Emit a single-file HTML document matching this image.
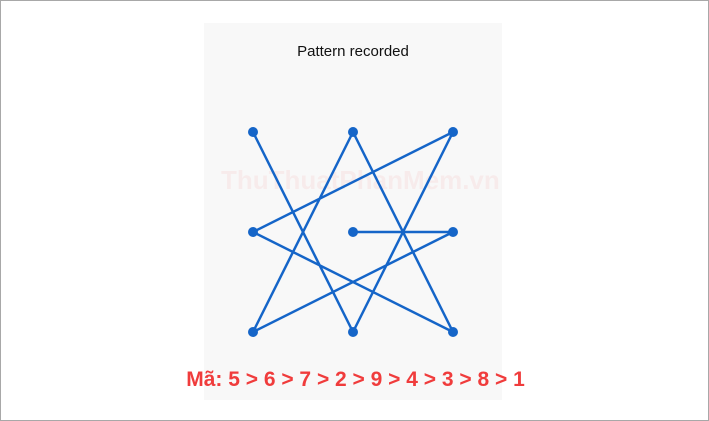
<!DOCTYPE html>
<html><head><style>
html,body{margin:0;padding:0;background:#fff;}
.w{position:relative;width:709px;height:421px;box-sizing:border-box;border:1px solid #a8a8a8;overflow:hidden;}
.p{position:absolute;left:203px;top:22px;width:298px;height:377px;background:#f8f8f8;}
.t{position:absolute;left:203px;width:298px;top:42px;text-align:center;font:15px "Liberation Sans",sans-serif;color:#111;}
.m{position:absolute;left:0;width:709px;top:367px;text-align:center;font:bold 21px "Liberation Sans",sans-serif;color:#f03c3c;}
.wm{position:absolute;left:220px;top:164px;font:bold 26px "Liberation Sans",sans-serif;color:rgba(240,90,90,0.08);}
</style></head><body><div class="w">
<div class="p"></div>
<div class="t">Pattern recorded</div>
<div class="wm">ThuThuatPhanMem.vn</div>
<svg width="709" height="421" style="position:absolute;left:0;top:0">
<polyline points="352,231 452,231 252,331 352,131 452,331 252,231 452,131 352,331 252,131" fill="none" stroke="#1565c8" stroke-width="2.5" stroke-linejoin="round"/>
<g fill="#1565c8">
<circle cx="252" cy="131" r="5"/><circle cx="352" cy="131" r="5"/><circle cx="452" cy="131" r="5"/>
<circle cx="252" cy="231" r="5"/><circle cx="352" cy="231" r="5"/><circle cx="452" cy="231" r="5"/>
<circle cx="252" cy="331" r="5"/><circle cx="352" cy="331" r="5"/><circle cx="452" cy="331" r="5"/>
</g></svg>
<div class="m">Mã: 5 &gt; 6 &gt; 7 &gt; 2 &gt; 9 &gt; 4 &gt; 3 &gt; 8 &gt; 1</div>
</div></body></html>
